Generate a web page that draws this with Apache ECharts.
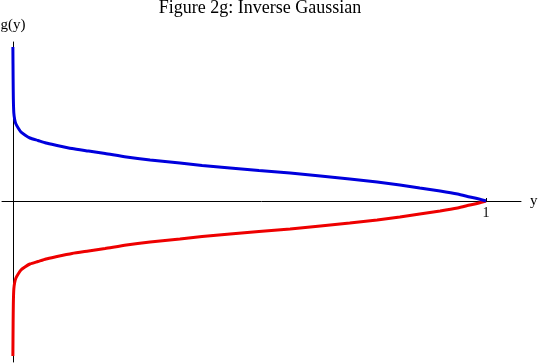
<!DOCTYPE html>
<html><head><meta charset="utf-8">
<script src="https://cdn.jsdelivr.net/npm/echarts@6/dist/echarts.min.js"></script>
<style>html,body{margin:0;padding:0;background:#fff}#c{width:540px;height:364px}</style>
</head><body><div id="c"></div>
<script>
var titleText = "Figure 2g: Inverse Gaussian";
var xTickValues = [1];
var blueX = [0, 0.0005, 0.001, 0.002, 0.004, 0.0065, 0.0112, 0.017, 0.0254, 0.036, 0.053, 0.07, 0.089, 0.125, 0.16, 0.195, 0.24, 0.29, 0.353, 0.40, 0.459, 0.52, 0.586, 0.65, 0.712, 0.77, 0.818, 0.86, 0.903, 0.94, 0.966, 0.985, 1];
var blueY = [1.54, 1.22, 1.02, 0.88, 0.81, 0.77, 0.73, 0.69, 0.66, 0.63, 0.605, 0.58, 0.56, 0.525, 0.50, 0.475, 0.44, 0.41, 0.38, 0.355, 0.33, 0.305, 0.28, 0.25, 0.22, 0.19, 0.16, 0.13, 0.10, 0.07, 0.04, 0.02, 0];
var redX = [0, 0.0005, 0.001, 0.002, 0.004, 0.0065, 0.0112, 0.017, 0.0254, 0.036, 0.053, 0.07, 0.089, 0.125, 0.16, 0.195, 0.24, 0.29, 0.353, 0.40, 0.459, 0.52, 0.586, 0.65, 0.712, 0.77, 0.818, 0.86, 0.903, 0.94, 0.966, 0.985, 1];
var redY = [-1.55, -1.22, -1.02, -0.88, -0.81, -0.77, -0.73, -0.69, -0.66, -0.63, -0.605, -0.58, -0.56, -0.525, -0.50, -0.475, -0.44, -0.41, -0.38, -0.355, -0.33, -0.305, -0.28, -0.25, -0.22, -0.19, -0.16, -0.13, -0.10, -0.07, -0.04, -0.02, 0];

function pairs(xs, ys){ return xs.map(function(x,i){return [x, ys[i]];}); }
var serif = '"Liberation Serif","DejaVu Serif",serif';
var chart = echarts.init(document.getElementById('c'));
chart.setOption({
  animation: false,
  title: { text: titleText, left: 260, textAlign: 'center', top: -1, padding: 0,
    textStyle: { fontFamily: serif, fontWeight: 'normal', fontSize: 18, color: '#000' } },
  grid: { left: 2, right: 19, top: 42, bottom: 2, outerBoundsMode: 'none', containLabel: false },
  xAxis: {
    type: 'value', min: -0.023, max: 1.074, position: 'bottom', offset: -161,
    name: 'y', nameLocation: 'end', nameGap: 9,
    nameTextStyle: { fontFamily: serif, fontSize: 15, color: '#000' },
    axisLine: { onZero: false, lineStyle: { color: '#000', width: 1 } },
    axisTick: { show: true, inside: true, length: 3, customValues: xTickValues, lineStyle: { color: '#000' } },
    axisLabel: { show: true, customValues: xTickValues, fontFamily: serif, fontSize: 14, color: '#000', margin: 5 },
    splitLine: { show: false }
  },
  yAxis: {
    type: 'value', min: -1.61, max: 1.59,
    name: 'g(y)', nameLocation: 'end', nameGap: 9,
    nameTextStyle: { fontFamily: serif, fontSize: 15, color: '#000' },
    axisLine: { onZero: true, lineStyle: { color: '#000', width: 1 } },
    axisTick: { show: false }, axisLabel: { show: false }, splitLine: { show: false }
  },
  series: [
    { type: 'line', data: pairs(blueX, blueY), showSymbol: false, smooth: 0.2,
      lineStyle: { color: '#0000dd', width: 3 }, z: 3 },
    { type: 'line', data: pairs(redX, redY), showSymbol: false, smooth: 0.2,
      lineStyle: { color: '#ee0000', width: 3 }, z: 2 }
  ]
});
</script></body></html>
